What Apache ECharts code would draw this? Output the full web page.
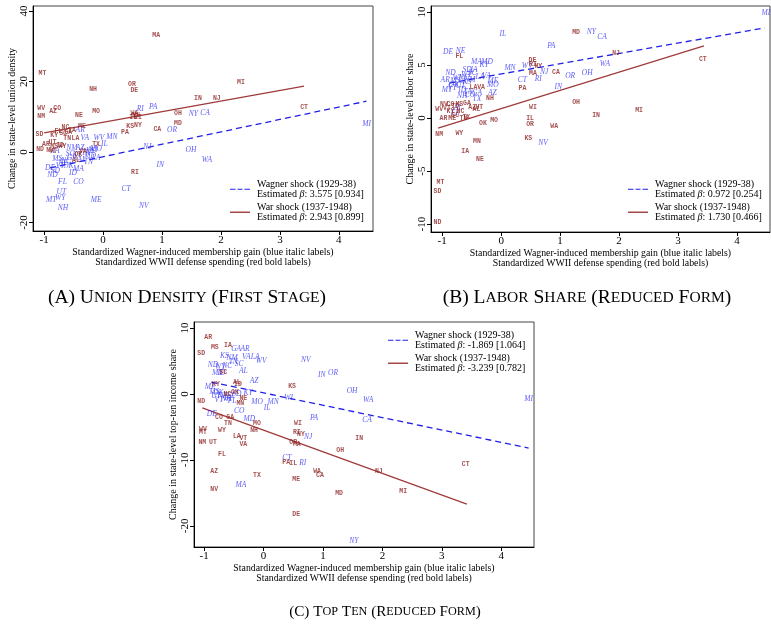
<!DOCTYPE html>
<html><head><meta charset="utf-8">
<script src="https://cdn.jsdelivr.net/npm/echarts@6/dist/echarts.min.js"></script>
<style>html,body{margin:0;padding:0;background:#fff}#c{width:771px;height:626px}</style>
</head><body><div id="c"></div>
<script>
// ---------- tick values ----------
const xTicks = [-1, 0, 1, 2, 3, 4];
const yTicksA = [-20, 0, 20, 40];
const yTicksB = [-10, -5, 0, 5, 10];
const yTicksC = [-20, -10, 0, 10];

// ---------- Panel A: union density ----------
const aWar = [
 ['MA',0.90,33.1],['MT',-1.03,22.4],['OR',0.49,19.3],['NH',-0.17,17.8],['DE',0.53,17.6],['MI',2.34,19.8],
 ['IN',1.61,15.3],['NJ',1.93,15.3],['CT',3.41,12.7],['WV',-1.05,12.5],['CO',-0.78,12.5],['AZ',-0.85,11.6],
 ['NM',-1.05,10.2],['NE',-0.41,10.5],['MO',-0.12,11.6],['WA',0.53,11.0],['IL',0.51,9.9],['MN',0.56,10.5],
 ['WI',0.59,9.9],['OH',1.27,11.0],['MD',1.27,8.2],['KS',0.46,7.4],['NY',0.59,7.6],['CA',0.92,6.5],
 ['PA',0.37,5.7],['NC',-0.64,7.1],['ME',-0.36,7.4],['SD',-1.08,5.1],['KY',-0.83,4.8],['SC',-0.68,5.4],
 ['GA',-0.59,5.7],['TN',-0.61,4.0],['LA',-0.47,4.0],['UT',-0.86,2.8],['AR',-0.97,2.3],['MS',-0.83,1.7],
 ['WY',-0.69,1.7],['ND',-1.07,0.8],['VT',-0.85,0.3],['TX',-0.12,2.3],['RI',0.54,-5.9],['AL',-0.46,-2.3],
 ['FL',-0.76,5.9],['ID',-0.73,2.0],['IA',-0.53,6.2],['NV',-0.90,0.6],['OK',-0.42,-0.8],['VA',-0.34,0.3]
];
const aWagner = [
 ['PA',0.85,12.7],['RI',0.63,12.2],['NY',1.53,10.8],['CA',1.73,11.0],['OR',1.17,6.2],['MI',4.47,7.9],
 ['OH',1.49,0.6],['WA',1.76,-2.3],['IN',0.97,-3.7],['NJ',0.75,1.4],['CT',0.39,-10.5],['NV',0.69,-15.3],
 ['ME',-0.12,-13.6],['NH',-0.68,-15.9],['MT',-0.88,-13.6],['WY',-0.73,-13.0],['UT',-0.71,-11.3],['FL',-0.69,-8.5],
 ['CO',-0.42,-8.5],['VA',-0.31,4.0],['WV',-0.07,4.0],['MN',0.15,4.2],['IL',0.02,2.3],['MO',-0.12,0.8],
 ['DE',-0.90,-4.5],['SD',-0.81,-5.4],['ND',-0.86,-6.5],['MA',-0.42,-4.8],['ID',-0.51,-5.9],['NE',-0.68,-3.1],
 ['MS',-0.78,-2.0],['AR',-0.39,6.2],['IA',-0.80,0.3],['AZ',-0.39,1.1],['KS',-0.22,0.3],['WI',-0.17,0.6],
 ['KY',-0.44,-0.8],['AL',-0.36,-2.3],['LA',-0.12,-1.7],['TN',-0.25,-2.8],['GA',-0.53,-1.7],['SC',-0.56,-0.6],
 ['NC',-0.63,-2.5],['OK',-0.59,-4.0],['TX',-0.29,-0.3],['NM',-0.53,1.1],['MD',-0.22,-1.1],['VT',-0.73,-4.0]
];
const aWagnerFit = [[-0.90,-4.5],[4.47,14.4]];
const aWarFit = [[-1.00,5.4],[3.41,18.7]];

// ---------- Panel B: labor share ----------
const bWar = [
 ['MD',1.27,8.1],['DE',0.53,5.4],['RI',0.54,5.1],['NY',0.63,4.9],['MA',0.54,4.2],['CA',0.93,4.3],
 ['FL',-0.71,5.8],['PA',0.36,2.8],['OH',1.27,1.5],['NH',-0.19,1.9],['WI',0.54,1.0],['IN',1.61,0.3],
 ['LA',-0.47,2.9],['VA',-0.34,2.9],['AZ',-0.49,1.0],['UT',-0.37,1.0],['TX',-0.59,0.1],['WV',-1.05,0.8],
 ['CO',-0.86,1.3],['MS',-0.71,1.3],['GA',-0.58,1.4],['KY',-0.86,0.6],['NC',-0.69,0.6],['AR',-0.98,0.0],
 ['ME',-0.83,0.0],['OK',-0.31,-0.5],['MO',-0.12,-0.2],['IL',0.49,0.0],['OR',0.49,-0.6],['WA',0.90,-0.8],
 ['NM',-1.05,-1.5],['WY',-0.71,-1.4],['MN',-0.41,-2.2],['IA',-0.61,-3.1],['NE',-0.36,-3.9],['KS',0.46,-1.9],
 ['MT',-1.03,-6.1],['SD',-1.08,-6.9],['ND',-1.08,-9.8],['MI',2.34,0.75],['CT',3.42,5.5],['NJ',1.95,6.1],
 ['SC',-0.78,0.3],['TN',-0.64,0.0],['VT',-0.92,0.9],['ID',-0.78,1.1],['NV',-0.97,1.3],['AL',-0.42,0.85]
];
const bWagner = [
 ['IL',0.03,7.9],['NY',1.53,8.1],['PA',0.85,6.8],['DE',-0.90,6.2],['NE',-0.69,6.3],['MA',-0.42,5.3],
 ['MD',-0.24,5.3],['KY',-0.29,5.0],['MN',0.15,4.7],['WV',0.44,4.9],['NJ',0.73,4.3],['CA',1.71,7.6],
 ['WA',1.76,5.1],['OH',1.46,4.2],['OR',1.17,4.0],['MI',4.49,9.9],['RI',0.63,3.7],['CT',0.36,3.6],
 ['IN',0.97,2.9],['NV',0.71,-2.4],['MT',-0.92,2.6],['OK',-0.80,3.1],['KS',-0.58,3.4],['NH',-0.66,2.1],
 ['GA',-0.41,2.4],['TX',-0.41,1.8],['AZ',-0.15,2.4],['ME',-0.14,3.5],['MO',-0.14,3.1],['AL',-0.73,0.95],
 ['FL',-0.78,0.5],['ND',-0.86,4.2],['WI',-0.75,3.8],['NC',-0.64,3.8],['SD',-0.58,4.5],['IA',-0.46,4.5],
 ['SC',-0.49,4.2],['LA',-0.36,3.9],['VA',-0.25,4.0],['UT',-0.69,3.0],['CO',-0.53,2.2],['AR',-0.95,3.6],
 ['MS',-0.78,3.5],['ID',-0.66,2.6],['TN',-0.56,2.5],['VT',-0.83,2.8],['WY',-0.59,4.1],['NM',-0.53,3.6]
];
const bWagnerFit = [[-0.88,3.3],[4.47,8.5]];
const bWarFit = [[-1.07,-0.94],[3.44,6.8]];

// ---------- Panel C: top-ten income share ----------
const cWar = [
 ['AR',-0.93,8.6],['MS',-0.82,7.0],['IA',-0.60,7.3],['SD',-1.05,6.1],['SC',-0.68,3.2],['AL',-0.45,1.8],
 ['ID',-0.43,1.4],['KS',0.48,1.1],['KY',-0.80,1.5],['NC',-0.61,0.0],['ND',-1.05,-1.2],['NE',-0.34,-0.6],
 ['MN',-0.39,-1.5],['CO',-0.75,-3.5],['GA',-0.56,-3.5],['TN',-0.60,-4.5],['MO',-0.11,-4.5],['NH',-0.16,-5.5],
 ['WY',-0.70,-5.5],['WV',-1.02,-5.3],['MT',-1.02,-5.9],['NM',-1.03,-7.4],['UT',-0.85,-7.3],['WI',0.58,-4.4],
 ['RI',0.56,-5.8],['NY',0.63,-6.2],['LA',-0.45,-6.4],['VT',-0.34,-6.7],['VA',-0.34,-7.7],['OR',0.50,-7.3],
 ['MA',0.56,-7.6],['OH',1.29,-8.6],['FL',-0.70,-9.2],['PA',0.38,-10.3],['IL',0.50,-10.5],['AZ',-0.83,-11.7],
 ['TX',-0.11,-12.4],['WA',0.90,-11.8],['CA',0.95,-12.4],['ME',0.55,-13.0],['NV',-0.83,-14.4],['MD',1.27,-15.0],
 ['DE',0.55,-18.2],['IN',1.61,-6.7],['MI',2.35,-14.8],['CT',3.40,-10.6],['NJ',1.94,-11.8],['OK',-0.48,0.3]
];
const cWagner = [
 ['GA',-0.46,6.8],['AR',-0.31,6.8],['VA',-0.29,5.6],['LA',-0.14,5.6],['WV',-0.04,5.0],['NV',0.71,5.2],
 ['IN',0.98,2.9],['OR',1.17,3.2],['OH',1.49,0.5],['KS',-0.66,5.8],['NM',-0.53,5.5],['TN',-0.51,4.8],
 ['SC',-0.41,4.5],['ND',-0.85,4.4],['WY',-0.73,4.1],['NC',-0.61,4.2],['AL',-0.34,3.5],['MT',-0.78,3.2],
 ['ID',-0.71,3.2],['AZ',-0.16,2.0],['ME',-0.90,1.1],['MS',-0.83,0.3],['OK',-0.76,0.2],['NE',-0.69,-0.3],
 ['SD',-0.45,0.0],['KY',-0.26,0.2],['NH',-0.63,-0.8],['MN',0.16,-1.2],['MO',-0.11,-1.2],['IL',0.06,-2.1],
 ['WI',0.42,-0.6],['DE',-0.87,-3.0],['CO',-0.41,-2.6],['MD',-0.24,-3.8],['PA',0.85,-3.6],['WA',1.76,-0.9],
 ['CA',1.74,-3.9],['MI',4.46,-0.8],['NJ',0.75,-6.5],['CT',0.39,-9.7],['RI',0.66,-10.5],['MA',-0.38,-13.8],
 ['NY',1.52,-22.3],['UT',-0.80,-0.3],['VT',-0.75,-0.9],['IA',-0.60,-0.6],['FL',-0.53,-1.1],['TX',-0.56,-0.3]
];
const cWagnerFit = [[-0.88,1.8],[4.46,-8.2]];
const cWarFit = [[-1.03,-2.1],[3.42,-16.7]];

// legend estimates
const betaA = ['3.575 [0.934]', '2.943 [0.899]'];
const betaB = ['0.972 [0.254]', '1.730 [0.466]'];
const betaC = ['-1.869 [1.064]', '-3.239 [0.782]'];

const WAG = 'Wagner shock (1929-38)';
const WAR = 'War shock (1937-1948)';
const SERIF = 'Liberation Serif';
const BLUE = '#3535f5';
const RED = '#8e2424';
const LINE_BLUE = '#2020e8';
const LINE_RED = '#a03a3a';

const xName = 'Standardized Wagner-induced membership gain (blue italic labels)\nStandardized WWII defense spending (red bold labels)';

function xAxis(gi, min, max) {
  return {
    type: 'value', gridIndex: gi, min: min, max: max,
    axisLine: {show: true, onZero: false, lineStyle: {color: '#000', width: 1}},
    axisTick: {show: true, length: 4, customValues: xTicks, lineStyle: {color: '#000'}},
    axisLabel: {customValues: xTicks, margin: 4, fontFamily: SERIF, fontSize: 11, color: '#000'},
    splitLine: {show: false},
    name: xName, nameLocation: 'middle', nameGap: 13,
    nameTextStyle: {fontFamily: SERIF, fontSize: 9.8, lineHeight: 10.5, color: '#000'}
  };
}
function yAxis(gi, min, max, ticks, name) {
  return {
    type: 'value', gridIndex: gi, min: min, max: max,
    axisLine: {show: true, onZero: false, lineStyle: {color: '#000', width: 1}},
    axisTick: {show: true, length: 4, customValues: ticks, lineStyle: {color: '#000'}},
    axisLabel: {customValues: ticks, margin: 3, rotate: 90, fontFamily: SERIF, fontSize: 11, color: '#000'},
    splitLine: {show: false},
    name: name, nameLocation: 'middle', nameGap: 16,
    nameTextStyle: {fontFamily: SERIF, fontSize: 10, color: '#000'}
  };
}
function labels(arr, gi, isWar) {
  return {
    type: 'scatter', name: isWar ? 'War states' : 'Wagner states',
    xAxisIndex: gi, yAxisIndex: gi, symbolSize: 1,
    itemStyle: {color: 'rgba(0,0,0,0)'},
    data: arr.map(d => ({name: d[0], value: [d[1], d[2]]})),
    label: {
      show: true, position: 'inside', formatter: '{b}',
      fontFamily: isWar ? 'Liberation Mono' : SERIF,
      fontSize: isWar ? 6.5 : 7.5,
      fontWeight: isWar ? 'bold' : 'normal',
      fontStyle: isWar ? 'normal' : 'italic',
      color: isWar ? RED : BLUE
    },
    emphasis: {disabled: true}, silent: true, z: 3
  };
}
function fit(arr, gi, isWar) {
  return {
    type: 'line', name: isWar ? WAR : WAG, xAxisIndex: gi, yAxisIndex: gi,
    data: arr, symbol: 'none', showSymbol: false,
    lineStyle: isWar ? {color: LINE_RED, width: 1.3, type: 'solid'}
                     : {color: LINE_BLUE, width: 1.3, type: [6, 4]},
    itemStyle: {color: isWar ? LINE_RED : LINE_BLUE},
    silent: true, z: 2
  };
}
const legendRich = {
  n: {fontFamily: SERIF, fontSize: 10, lineHeight: 10.5, color: '#000'},
  i: {fontFamily: SERIF, fontSize: 10, lineHeight: 10.5, fontStyle: 'italic', color: '#000'}
};
const DASH_ICON = 'path://M0,0h5.5v1h-5.5z M7.5,0h5v1h-5z M14.5,0h5.5v1h-5.5z';
function legend(left, top, betas) {
  return {
    show: true, orient: 'vertical', left: left, top: top, padding: 0,
    itemWidth: 20, itemHeight: 1.4, itemGap: 2.5, selectedMode: false,
    data: [{name: WAG, icon: DASH_ICON}, {name: WAR, icon: 'rect'}],
    formatter: function (name) {
      const b = name === WAG ? betas[0] : betas[1];
      return '{n|' + name + '}\n{n|Estimated }{i|β}{n|: ' + b + '}';
    },
    textStyle: {rich: legendRich, padding: [0, 0, 0, 2]}
  };
}
function smallCaps(s) {
  let out = '', prev = false;
  for (const ch of s) {
    const isL = /[A-Za-z]/.test(ch);
    out += (isL && prev) ? '{s|' + ch + '}' : '{b|' + ch + '}';
    prev = isL;
  }
  return out;
}
function capRich(big, small) {
  return {
    b: {fontFamily: SERIF, fontSize: big, color: '#000'},
    s: {fontFamily: SERIF, fontSize: small, color: '#000'}
  };
}
function caption(text, x, y, big, small) {
  return {type: 'text', x: x, y: y,
    style: {text: smallCaps(text), rich: capRich(big, small), align: 'center', verticalAlign: 'middle'}};
}

const chart = echarts.init(document.getElementById('c'), null, {renderer: 'canvas'});
chart.setOption({
  animation: false,
  backgroundColor: '#fff',
  grid: [
    {left: 33, top: 6, width: 340, height: 225, show: true, borderColor: '#444', borderWidth: 1},
    {left: 431, top: 6, width: 339, height: 226, show: true, borderColor: '#444', borderWidth: 1},
    {left: 194, top: 322, width: 340, height: 225, show: true, borderColor: '#444', borderWidth: 1}
  ],
  xAxis: [xAxis(0, -1.19, 4.58), xAxis(1, -1.19, 4.56), xAxis(2, -1.17, 4.55)],
  yAxis: [
    yAxis(0, -22.4, 41.4, yTicksA, 'Change in state-level union density'),
    yAxis(1, -10.75, 10.57, yTicksB, 'Change in state-level labor share'),
    yAxis(2, -23.2, 10.9, yTicksC, 'Change in state-level top-ten income share')
  ],
  legend: [legend(230, 179, betaA), legend(628, 179, betaB), legend(388, 330, betaC)],
  series: [
    fit(aWagnerFit, 0, false), fit(aWarFit, 0, true),
    labels(aWagner, 0, false), labels(aWar, 0, true),
    fit(bWagnerFit, 1, false), fit(bWarFit, 1, true),
    labels(bWagner, 1, false), labels(bWar, 1, true),
    fit(cWagnerFit, 2, false), fit(cWarFit, 2, true),
    labels(cWagner, 2, false), labels(cWar, 2, true)
  ],
  graphic: [
    caption('(A) Union Density (First Stage)'.toUpperCase(), 187, 298, 19.5, 15.5),
    caption('(B) Labor Share (Reduced Form)'.toUpperCase(), 587, 298, 19.5, 15.5),
    caption('(C) Top Ten (Reduced Form)'.toUpperCase(), 385, 612, 15.2, 12.2)
  ]
});
</script></body></html>
